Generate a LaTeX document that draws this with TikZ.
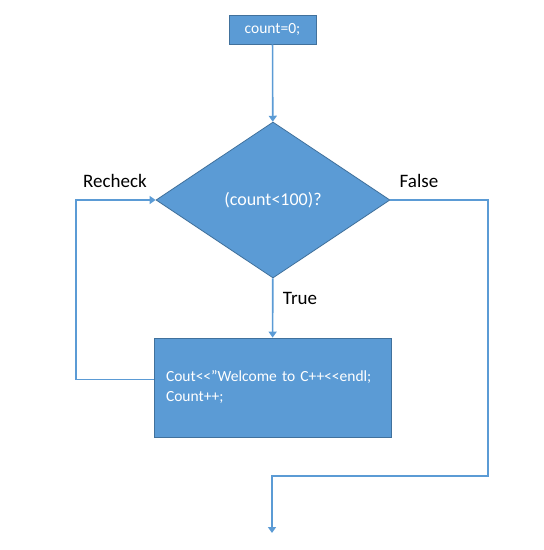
\documentclass[tikz,border=0pt]{standalone}
\usepackage{fontspec}
\setmainfont{Carlito}
\usepackage{tikz}
\usetikzlibrary{arrows.meta,shapes.geometric}
\definecolor{officeblue}{HTML}{5B9BD5}
\definecolor{officeedge}{HTML}{41719C}
\tikzset{
  every picture/.style={font=\fontsize{15.5}{18}\selectfont},
  block/.style={draw=officeedge,fill=officeblue,line width=0.8pt,text=white,inner sep=0pt},
  startbox/.style={block,minimum width=87pt,minimum height=29pt},
  decision/.style={block,diamond,aspect=1.5,minimum width=234pt,minimum height=156pt,font=\fontsize{18}{21}\selectfont},
  bodybox/.style={block,minimum width=237pt,minimum height=99pt,text width=213pt,align=left,font=\fontsize{15.5}{20}\selectfont},
  flow/.style={draw=officeblue,line width=1.6pt,-{Triangle[width=8pt,length=6pt]}},
  tag/.style={inner sep=0pt,font=\fontsize{19}{22}\selectfont},
}
\begin{document}
\begin{tikzpicture}[x=1pt,y=-1pt]
  \useasboundingbox (0,0) rectangle (544,550);
  \node[startbox] (init) at (272.5,29.5) {count=0;};
  \node[decision] (test) at (273,200) {(count<100)?};
  \node[bodybox] (body) at (272.5,387.5) {Cout<\kern0pt<\kern0pt”Welcome to C++<\kern0pt<endl;\\Count++;\\[6pt]};
  \coordinate (backtop) at (76,200);
  \coordinate (falsetop) at (488,200);
  \coordinate (falsebot) at (488,476);
  \coordinate (exit) at (272,533);
  % arrows
  \draw[flow] (init) -- (test);
  \draw[flow] (test) -- (body);
  \draw[flow] ([yshift=8pt]body.west) -| (backtop) -- (test.west);
  \draw[flow] (test.east) -- (falsetop) -- (falsebot) -| (exit);
  % labels
  \node[tag] (recheck) at (115,181) {Recheck};
  \node[tag] (false) at (419,181) {False};
  \node[tag] (true) at (300,298) {True};
\end{tikzpicture}
\end{document}
